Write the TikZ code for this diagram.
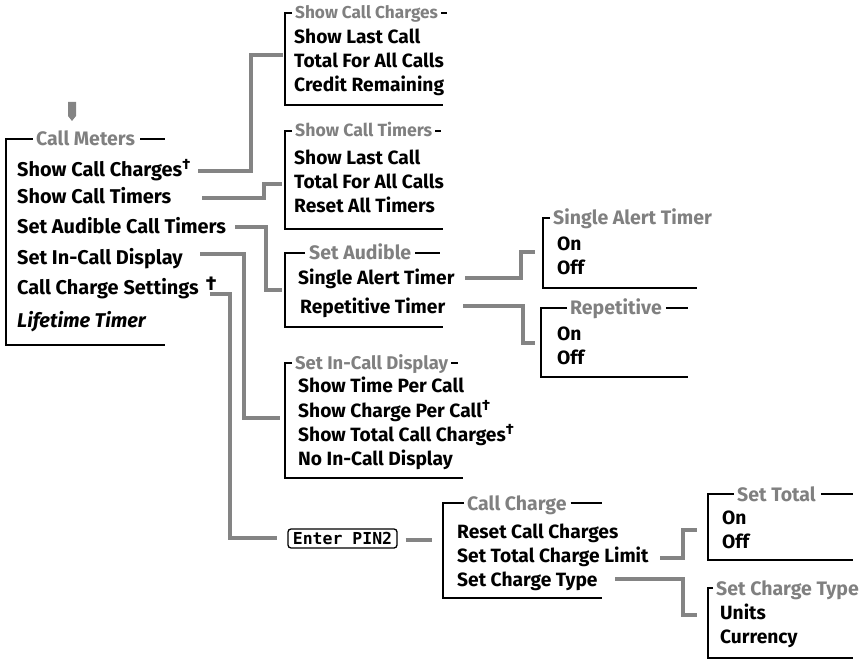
\documentclass[tikz,border=0pt]{standalone}
\usepackage{fontspec}
\setmainfont{Fira Sans}
\newfontfamily\lcdfont{DejaVu Sans Mono}
\definecolor{ttlgray}{RGB}{128,128,128}
\definecolor{conngray}{RGB}{132,132,132}
\begin{document}
\begin{tikzpicture}[x=1pt,y=-1pt,
  itm/.style={anchor=base west,inner sep=0,font=\bfseries\fontsize{19.2}{21}\selectfont},
  itmL/.style={anchor=base west,inner sep=0,font=\bfseries\fontsize{19.9}{21}\selectfont},
  ttl/.style={anchor=base west,inner sep=0,text=ttlgray,font=\bfseries\fontsize{19.5}{21}\selectfont},
  ttlS/.style={anchor=base west,inner sep=0,text=ttlgray,font=\bfseries\fontsize{#1}{19}\selectfont},
  conn/.style={draw=conngray,line width=4pt,line join=miter},
  brk/.style={draw=black,line width=1.1pt},
  pinbox/.style={draw=black,line width=1.3pt,rounded corners=3pt,minimum width=109pt,minimum height=19pt,inner sep=0,font=\lcdfont\bfseries\fontsize{16.5}{16}\selectfont}]
\useasboundingbox (0,0) rectangle (862,660);
\newcommand\dg[1]{\raisebox{#1}{\fontsize{15}{15}\selectfont\textbf{†}}}
% top arrow
\fill[conngray] (68,102) -- (76,102) -- (76,116) -- (72,121) -- (68,116) -- cycle;
% Call Meters
\node[ttl] (tCM) at (36,146) {Call Meters};
\draw[brk] ([xshift=-3pt,yshift=7pt]tCM.base west) -| (6,345) -- (165,345);
\draw[brk] ([xshift=5pt,yshift=7pt]tCM.base east) -- (165,139);
\node[itmL] (mCC) at (17,177) {Show Call Charges\dg{7pt}};
\node[itmL] (mCT) at (17,204) {Show Call Timers};
\node[itmL] (mAT) at (17,234) {Set Audible Call Timers};
\node[itmL] (mID) at (17,265) {Set In-Call Display};
\node[itmL] (mCS) at (17,295) {Call Charge\hspace{5pt}Settings\hspace{7pt}\raisebox{5pt}{\fontsize{20}{20}\selectfont\textbf{†}}};
\node[itmL] (mLT) at (17,327) {\bfseries\itshape Lifetime Timer};
% Show Call Charges box
\node[ttlS=17.2] (tSC) at (295,19) {Show Call Charges};
\draw[brk] ([xshift=-3pt,yshift=6pt]tSC.base west) -| (285,105) -- (443,105);
\draw[brk] ([xshift=3pt,yshift=6pt]tSC.base east) -- ++(6,0);
\node[itm] (sc1) at (294,44) {Show Last Call};
\node[itm] (sc2) at (294,68) {Total For All Calls};
\node[itm] (sc3) at (294,92) {Credit Remaining};
% Show Call Timers box
\node[ttlS=17.7] (tST) at (295,137) {Show Call Timers};
\draw[brk] ([xshift=-3pt,yshift=6pt]tST.base west) -| (285,229) -- (443,229);
\draw[brk] ([xshift=3pt,yshift=6pt]tST.base east) -- ++(6,0);
\node[itm] (st1) at (294,165) {Show Last Call};
\node[itm] (st2) at (294,189) {Total For All Calls};
\node[itm] (st3) at (294,213) {Reset All Timers};
% Set Audible box
\node[ttl] (tSA) at (309,260) {Set Audible};
\draw[brk] ([xshift=-4pt,yshift=7pt]tSA.base west) -| (285,327) -- (443,327);
\draw[brk] ([xshift=4pt,yshift=7pt]tSA.base east) -- (440,253);
\node[itm] (sa1) at (298,285) {Single Alert Timer};
\node[itm] (sa2) at (300,313) {Repetitive Timer};
% Set In-Call Display box
\node[ttlS=18.4] (tSD) at (295,369) {Set In-Call Display};
\draw[brk] ([xshift=-3pt,yshift=6pt]tSD.base west) -| (285,478) -- (463,478);
\draw[brk] ([xshift=3pt,yshift=6pt]tSD.base east) -- ++(7,0);
\node[itm] (sd1) at (298,392) {Show Time Per Call};
\node[itm] (sd2) at (298,417) {Show Charge Per Call\dg{7pt}};
\node[itm] (sd3) at (298,441) {Show Total Call Charges\dg{7pt}};
\node[itm] (sd4) at (298,465) {No In-Call Display};
% Single Alert Timer box
\node[ttl] (tAL) at (553,225) {Single Alert Timer};
\draw[brk] ([xshift=-3pt,yshift=7pt]tAL.base west) -| (543,288) -- (697,288);
\node[itm] (al1) at (557,251) {On};
\node[itm] (al2) at (557,275) {Off};
% Repetitive box
\node[ttl] (tRP) at (570,315) {Repetitive};
\draw[brk] ([xshift=-3pt,yshift=7pt]tRP.base west) -| (541,377) -- (688,377);
\draw[brk] ([xshift=4pt,yshift=7pt]tRP.base east) -- (688,308);
\node[itm] (rp1) at (557,340) {On};
\node[itm] (rp2) at (557,364) {Off};
% Enter PIN2
\node[pinbox] (pin) at (342.5,538.5) {Enter PIN2};
% Call Charge box
\node[ttl] (tCC) at (467,510) {Call Charge};
\draw[brk] ([xshift=-3pt,yshift=7pt]tCC.base west) -| (443,598) -- (602,598);
\draw[brk] ([xshift=4pt,yshift=7pt]tCC.base east) -- (602,503);
\node[itm] (cc1) at (457,538) {Reset Call Charges};
\node[itm] (cc2) at (457,562) {Set Total Charge Limit};
\node[itm] (cc3) at (457,586) {Set Charge Type};
% Set Total box
\node[ttl] (tTO) at (737,501) {Set Total};
\draw[brk] ([xshift=-3pt,yshift=7pt]tTO.base west) -| (708,560) -- (853,560);
\draw[brk] ([xshift=5pt,yshift=7pt]tTO.base east) -- (853,494);
\node[itm] (to1) at (722,524) {On};
\node[itm] (to2) at (722,548) {Off};
% Set Charge Type box
\node[ttl] (tTY) at (716,595) {Set Charge Type};
\draw[brk] ([xshift=-3pt,yshift=7pt]tTY.base west) -| (708,658) -- (853,658);
\node[itm] (ty1) at (720,619) {Units};
\node[itm] (ty2) at (720,643) {Currency};
% connector end points
\coordinate (s1) at (198,171); \coordinate (e1) at (283,55);
\coordinate (s2) at (202,198); \coordinate (e2) at (282,184);
\coordinate (s3) at (235,227); \coordinate (e3) at (282,290);
\coordinate (s4) at (200,254); \coordinate (e4) at (280,418);
\coordinate (s5) at (210,294); \coordinate (e5) at (pin.west);
\coordinate (e6) at (432,540);
\coordinate (s7) at (465,278); \coordinate (e7) at (535,252);
\coordinate (s8) at (463,306); \coordinate (e8) at (535,343);
\coordinate (s9) at (660,558); \coordinate (e9) at (697,530);
\coordinate (s10) at (615,579); \coordinate (e10) at (697,615);
% connectors
\draw[conn] (s1) -- (251,171) -- (251,55) -- (e1);
\draw[conn] (s2) -- (264,198) -- (264,184) -- (e2);
\draw[conn] (s3) -- (266,227) -- (266,290) -- (e3);
\draw[conn] (s4) -- (244,254) -- (244,418) -- (e4);
\draw[conn] (s5) -- (230,294) -- (230,538) -- ([xshift=-10pt]e5 |- 0,538);
\draw[conn] ([xshift=8pt]pin.east |- 0,540) -- (e6);
\draw[conn] (s7) -- (521,278) -- (521,252) -- (e7);
\draw[conn] (s8) -- (523,306) -- (523,343) -- (e8);
\draw[conn] (s9) -- (683,558) -- (683,530) -- (e9);
\draw[conn] (s10) -- (683,579) -- (683,615) -- (e10);
\end{tikzpicture}
\end{document}
